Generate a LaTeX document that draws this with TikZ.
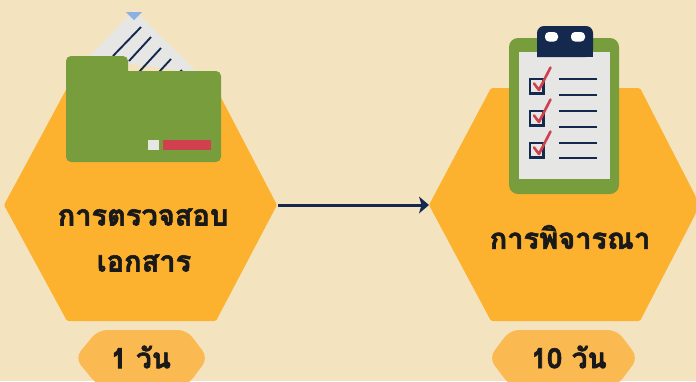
\documentclass[tikz,border=0pt]{standalone}
\usepackage{fontspec}
\newfontfamily\thaifont[Script=Thai,BoldFeatures={FakeBold=2}]{Loma}
\definecolor{bgc}{HTML}{F4E3BF}
\definecolor{hexc}{HTML}{FDB22F}
\definecolor{pillc}{HTML}{FBB952}
\definecolor{greenc}{HTML}{789D3D}
\definecolor{navyc}{HTML}{15294F}
\definecolor{paperc}{HTML}{E6E6E4}
\definecolor{redc}{HTML}{D0404E}
\definecolor{bluec}{HTML}{8EB0E0}
\tikzset{
 hexshape/.style={fill=hexc,rounded corners=1.5pt},
 pillshape/.style={fill=pillc,rounded corners=9pt},
 label/.style={font=\thaifont\bfseries\fontsize{29}{33}\selectfont,text=black!90,inner sep=0pt,anchor=center},
 pilltext/.style={font=\thaifont\bfseries\fontsize{28}{31}\selectfont,text=black!90,inner sep=0pt,anchor=center},
 rowline/.style={draw=navyc,line width=2.1pt},
 docline/.style={draw=navyc,line width=1.9pt},
 tick/.style={draw=redc,line width=2.6pt,line join=round,line cap=round},
 cbox/.style={draw=navyc,line width=2.4pt,fill=paperc},
}
\begin{document}
\begin{tikzpicture}[x=1pt,y=-1pt]
\useasboundingbox (0,0) rectangle (696,381);
\fill[bgc] (0,0) rectangle (696,381);
% hexagons
\fill[hexshape] (67,88) -- (216,88) -- (277,205) -- (216,321) -- (67,321) -- (4,205) -- cycle;
\fill[hexshape] (491,88) -- (640,88) -- (696,197) -- (696,213) -- (640,321) -- (491,321) -- (429,205) -- cycle;
\coordinate (hexA) at (278,205);
\coordinate (hexB) at (429,205);
% pills
\fill[pillshape] (98,330) -- (187,330) -- (208,358) -- (187,386) -- (98,386) -- (75,358) -- cycle;
\fill[pillshape] (510,330) -- (617,330) -- (638,358) -- (617,386) -- (510,386) -- (489,358) -- cycle;
% arrow
\draw[navyc,line width=3pt] (hexA) -- ([xshift=-6pt]hexB);
\fill[navyc] (hexB) -- ++(-10,-8.5) -- ++(2.5,8.5) -- ++(-2.5,8.5) -- cycle;
% paper
\fill[paperc] (134,10) -- (88,58) -- (198,73) -- cycle;
\fill[bluec] (126,12) -- (142,12) -- (134,20) -- cycle;
\draw[docline] (113,56) -- (141,27);
\draw[docline] (129,61) -- (151,37);
\draw[docline] (139,72) -- (161,48);
\draw[docline] (159,72) -- (171,59);
\draw[docline] (180,72) -- (182,70);
% folder
\fill[greenc,rounded corners=5pt] (66,162) -- (66,56) -- (128,56) -- (128,71) [sharp corners] -- (128,71) [rounded corners=5pt] -- (221,71) -- (221,162) -- cycle;
\fill[paperc] (148,140) rectangle (159,150);
\fill[redc] (163,140) rectangle (211,150);
% clipboard
\fill[greenc,rounded corners=9pt] (509,38) rectangle (619,194);
\fill[paperc] (519,52) rectangle (610,179);
\fill[navyc,rounded corners=7pt] (537,57) -- (537,26) -- (593,26) -- (593,57) [sharp corners] -- cycle;
\fill[navyc] (537,46) rectangle (593,57);
\fill[white,rounded corners=4pt] (545,32) rectangle (558,41.5);
\fill[white,rounded corners=4pt] (571,32) rectangle (585,41.5);
\foreach \yy in {0,32,64}{
  \draw[cbox] (530,79+\yy) rectangle (543.5,93.5+\yy);
  \draw[tick] (534,83.5+\yy) -- (539,90+\yy) -- (550.5,67.5+\yy);
}
\foreach \yy in {79,95,111,127,143,158}{
  \draw[rowline] (559,\yy) -- (597,\yy);
}
% texts
\node[label] (t1) at (143,217) {การตรวจสอบ};
\node[label] (t2) at (144,263) {เอกสาร};
\node[label] (t3) at (570,237) {การพิจารณา};
\node[pilltext] (p1) at (141,357) {1 วัน};
\node[pilltext] (p2) at (569,357) {10 วัน};
\end{tikzpicture}
\end{document}
